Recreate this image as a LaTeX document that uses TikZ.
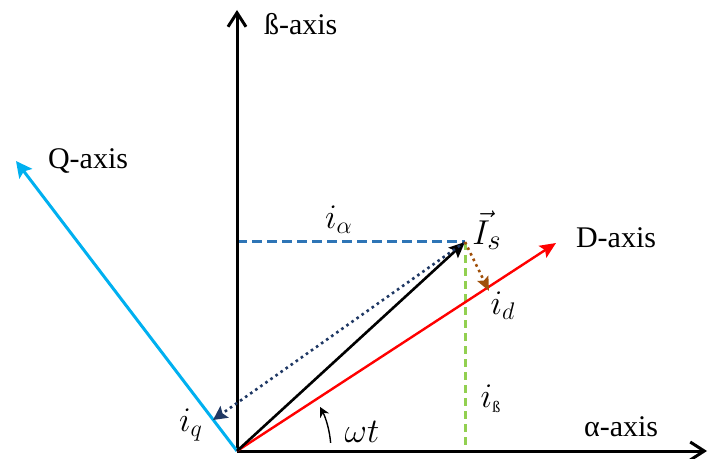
\documentclass[tikz,border=0pt]{standalone}
\usepackage{fontspec}
\setmainfont{Liberation Serif}
\usetikzlibrary{arrows.meta}
\definecolor{qblue}{RGB}{0,176,240}
\definecolor{ablue}{RGB}{46,117,182}
\definecolor{bgreen}{RGB}{146,208,80}
\definecolor{navy}{RGB}{31,56,100}
\definecolor{dbrown}{RGB}{160,80,10}
\begin{document}
\begin{tikzpicture}[x=0.5pt, y=-0.5pt, font=\fontsize{15}{18}\selectfont]
    \useasboundingbox (0,0) rectangle (710,459);

    % 1. Points
    \coordinate (O) at (237,451);
    \coordinate (B) at (237,10);
    \coordinate (A) at (707,451);
    \coordinate (Q) at (16,161);
    \coordinate (D) at (556,243);
    \coordinate (S) at (465,242);
    \coordinate (Sa) at (237,242);
    \coordinate (Sb) at (465,451);
    \coordinate (Iq) at (213,420);
    \coordinate (Id) at (489,291);

    % 2. Projections (dashed)
    \draw[ablue, line width=1.5pt, dash pattern=on 5pt off 2.5pt] (Sa) -- (S);
    \draw[bgreen, line width=1.5pt, dash pattern=on 4pt off 2.5pt] (S) -- (Sb);

    % 3. Alpha and beta axes
    \draw[line width=1.5pt, -{Straight Barb[length=7pt, width=9pt, line width=1.5pt]}] (O) -- (B);
    \draw[line width=1.5pt, -{Straight Barb[length=7pt, width=9pt, line width=1.5pt]}] (O) -- (A);

    % 4. Rotating D and Q axes
    \draw[qblue, line width=1.5pt, -{Stealth[length=8pt, width=8pt, inset=1.5pt]}] (O) -- (Q);
    \draw[red, line width=1.2pt, -{Stealth[length=8pt, width=7pt, inset=1.5pt]}] (O) -- (D);

    % 5. Current vector and its components
    \draw[line width=1.3pt, -{Stealth[length=8pt, width=7pt, inset=1.5pt]}] (O) -- (S);
    \draw[navy, line width=1.3pt, dash pattern=on 1.3pt off 1.8pt, -{Stealth[length=7pt, width=7pt, inset=1.2pt]}] (S) -- (Iq);
    \draw[dbrown, line width=1.3pt, dash pattern=on 1.3pt off 1.8pt, -{Stealth[length=7pt, width=6pt, inset=1.2pt]}] (S) -- (Id);

    % 6. Angle
    \draw[line width=0.7pt, -{Stealth[length=5pt, width=5pt]}] (O) ++(-5:94) arc[start angle=5, end angle=28, radius=47pt];

    % 7. Labels
    \node[anchor=west] (lb) at (257,24) {ß-axis};
    \node[anchor=west] (lq) at (41,161) {Q-axis};
    \node[anchor=west] (ld) at (569,238) {D-axis};
    \node[anchor=west] (la) at (577,427) {α-axis};
    \node[font=\fontsize{17}{20}\selectfont] (lia) at (339,220) {$i_\alpha$};
    \node[font=\fontsize{19}{22}\selectfont, inner sep=1pt] (lis) at (487,230) {$\vec{I}_s$};
    \node[font=\fontsize{17}{20}\selectfont] (lid) at (503,306) {$i_d$};
    \node[font=\fontsize{17}{20}\selectfont] (lib) at (491,399) {$i_{\mbox{\footnotesize ß}}$};
    \node[font=\fontsize{17}{20}\selectfont] (liq) at (191,425) {$i_q$};
    \node[font=\fontsize{17}{20}\selectfont] (lwt) at (362,432) {$\omega t$};

\end{tikzpicture}
\end{document}
